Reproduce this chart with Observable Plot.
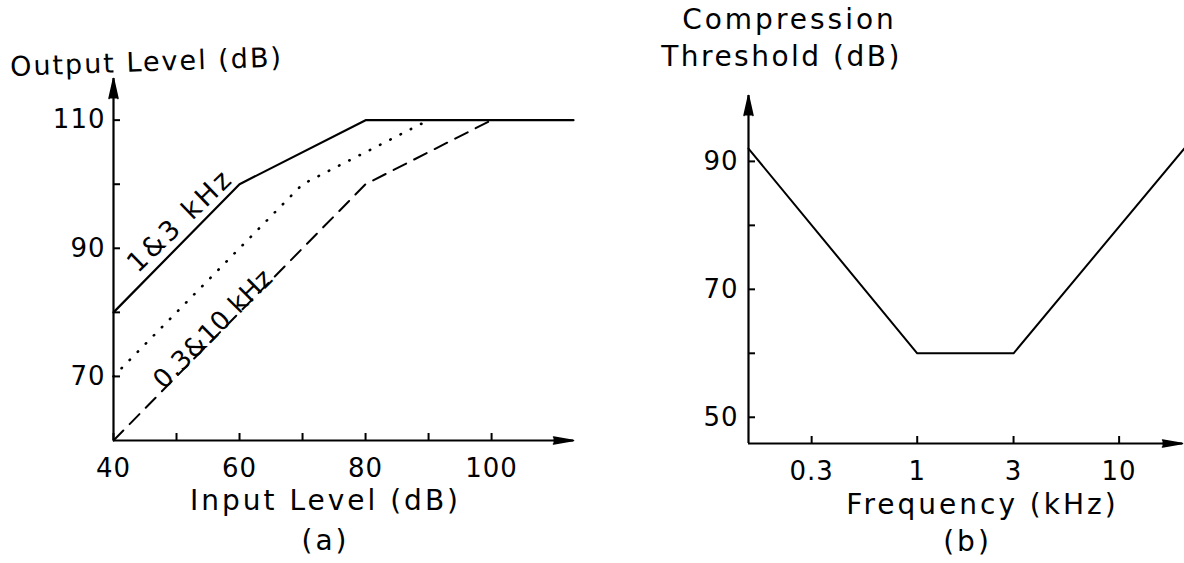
<!DOCTYPE html>
<html>
<head>
<meta charset="utf-8">
<script src="https://cdn.jsdelivr.net/npm/d3@7"></script>
<script src="https://cdn.jsdelivr.net/npm/@observablehq/plot@0.6"></script>
<style>
  html, body { margin: 0; padding: 0; background: #fff; }
  #wrap { position: relative; width: 1184px; height: 563px; overflow: hidden; background: #fff; }
  #left { position: absolute; left: 0; top: 0; }
  #right { position: absolute; left: 600px; top: 0; }
</style>
</head>
<body>
<div id="wrap"><div id="left"></div><div id="right"></div></div>
<script>
// ---- Panel (a): output level vs input level ----
const inputSolid = [40, 60, 80, 113];
const outputSolid = [80, 100, 110, 110];      // 1 & 3 kHz
const inputDotted = [40, 70, 90];
const outputDotted = [70, 100, 110];          // 0.3 kHz
const inputDashed = [40, 80, 100];
const outputDashed = [60, 100, 110];          // 10 kHz
const xTicksA = [40, 60, 80, 100];
const xMinorA = [50, 70, 90];
const yTicksA = [70, 90, 110];
const yMinorA = [80, 100];
const labelSolid = "1&3 kHz";
const labelDash = "0.3&10 kHz";

// ---- Panel (b): compression threshold vs frequency ----
const freqB = [0.146, 1, 3, 21];
const thresholdB = [92, 60, 60, 92];
const xTicksB = [0.3, 1, 3, 10];
const yTicksB = [50, 70, 90];
const yMinorB = [60, 80];

const FONT = "'DejaVu Sans',sans-serif";
const toRows = (xs, ys) => xs.map((x, i) => ({x, y: ys[i]}));
const T = {textAnchor: "middle", lineAnchor: "middle", fontSize: 28};

const left = Plot.plot({
  width: 600, height: 563,
  marginLeft: 113, marginRight: 27, marginTop: 78, marginBottom: 123,
  style: {fontFamily: FONT, fontSize: "26px", color: "#000", background: "#fff", overflow: "visible"},
  x: {domain: [40, 113]},
  y: {domain: [60, 116.5]},
  marks: [
    Plot.ruleX([40], {stroke: "#000", strokeWidth: 2.2}),
    Plot.ruleY([60], {stroke: "#000", strokeWidth: 2.2}),
    Plot.vector([{x: 40, y: 116.5}], {x: "x", y: "y", length: 20, rotate: 0, shape: "spike", anchor: "end", r: 4.5, fill: "#000", stroke: "#000"}),
    Plot.vector([{x: 113, y: 60}], {x: "x", y: "y", length: 20, rotate: 90, shape: "spike", anchor: "end", r: 3.5, fill: "#000", stroke: "#000"}),
    Plot.axisX({ticks: xTicksA, tickSize: -7, tickPadding: 25, tickFormat: d => d, label: null, fontSize: 26, strokeWidth: 2}),
    Plot.axisX({ticks: xMinorA, tickSize: -7, tickFormat: () => "", label: null, strokeWidth: 2}),
    Plot.axisY({ticks: yTicksA, tickSize: -7, tickPadding: 15, tickFormat: d => d, label: null, fontSize: 26, strokeWidth: 2}),
    Plot.axisY({ticks: yMinorA, tickSize: -7, tickFormat: () => "", label: null, strokeWidth: 2}),
    Plot.line(toRows(inputSolid, outputSolid), {x: "x", y: "y", stroke: "#000", strokeWidth: 2.2}),
    Plot.line(toRows(inputDotted, outputDotted), {x: "x", y: "y", stroke: "#000", strokeWidth: 2.6, strokeDasharray: "0.5,11", strokeLinecap: "round"}),
    Plot.line(toRows(inputDashed, outputDashed), {x: "x", y: "y", stroke: "#000", strokeWidth: 2, strokeDasharray: "14,9"}),
    Plot.text([labelSolid], {x: 50.6, y: 94.3, rotate: -44, ...T, fontSize: 27}),
    Plot.text([labelDash], {x: 55.8, y: 77.4, rotate: -45, ...T, fontSize: 26}),
    Plot.text(["Output Level (dB)"], {frameAnchor: "top-left", dx: -113 + 146, dy: -78 + 62, ...T, fontSize: 27, rotate: -2}),
    Plot.text(["Input Level (dB)"], {frameAnchor: "bottom-left", dx: 325 - 113, dy: 61, ...T}),
    Plot.text(["(a)"], {frameAnchor: "bottom-left", dx: 325 - 113, dy: 101, ...T})
  ]
});
document.getElementById("left").appendChild(left);

const right = Plot.plot({
  width: 584, height: 563,
  marginLeft: 148, marginRight: 2, marginTop: 95, marginBottom: 120,
  style: {fontFamily: FONT, fontSize: "26px", color: "#000", background: "#fff", overflow: "visible"},
  x: {type: "log", domain: [0.146, 20.6]},
  y: {domain: [45.9, 100.3]},
  marks: [
    Plot.ruleX([0.146], {stroke: "#000", strokeWidth: 2.2}),
    Plot.ruleY([45.9], {stroke: "#000", strokeWidth: 2.2}),
    Plot.vector([{x: 0.146, y: 100.3}], {x: "x", y: "y", length: 20, rotate: 0, shape: "spike", anchor: "end", r: 4.5, fill: "#000", stroke: "#000"}),
    Plot.vector([{x: 20.6, y: 45.9}], {x: "x", y: "y", length: 20, rotate: 90, shape: "spike", anchor: "end", r: 3.5, fill: "#000", stroke: "#000"}),
    Plot.axisX({ticks: xTicksB, tickSize: -7, tickPadding: 25, tickFormat: d => String(d), label: null, fontSize: 26, strokeWidth: 2}),
    Plot.axisY({ticks: yTicksB, tickSize: -7, tickPadding: 17, tickFormat: d => d, label: null, fontSize: 26, strokeWidth: 2}),
    Plot.axisY({ticks: yMinorB, tickSize: -7, tickFormat: () => "", label: null, strokeWidth: 2}),
    Plot.line(toRows(freqB, thresholdB), {x: "x", y: "y", stroke: "#000", strokeWidth: 2, clip: false}),
    Plot.text(["Compression"], {frameAnchor: "top-left", dx: 789 - 748, dy: 20 - 95, ...T}),
    Plot.text(["Threshold (dB)"], {frameAnchor: "top-left", dx: 781 - 748, dy: 57 - 95, ...T}),
    Plot.text(["Frequency (kHz)"], {frameAnchor: "bottom-left", dx: 982 - 748, dy: 62, ...T}),
    Plot.text(["(b)"], {frameAnchor: "bottom-left", dx: 967 - 748, dy: 99, ...T})
  ]
});
document.getElementById("right").appendChild(right);

// letter spacing like the hand-lettered original
const spacing = new Map([
  ["Output Level (dB)", "2px"], ["Input Level (dB)", "3px"], ["(a)", "3px"],
  ["Compression", "3px"], ["Threshold (dB)", "2.5px"], ["Frequency (kHz)", "3px"], ["(b)", "3px"],
  [labelSolid, "3px"], [labelDash, "0.5px"]
]);
for (const svg of [left, right]) {
  d3.select(svg).selectAll("text").each(function() {
    this.setAttribute("letter-spacing", spacing.get(this.textContent) || "1px");
  });
}
</script>
</body>
</html>
